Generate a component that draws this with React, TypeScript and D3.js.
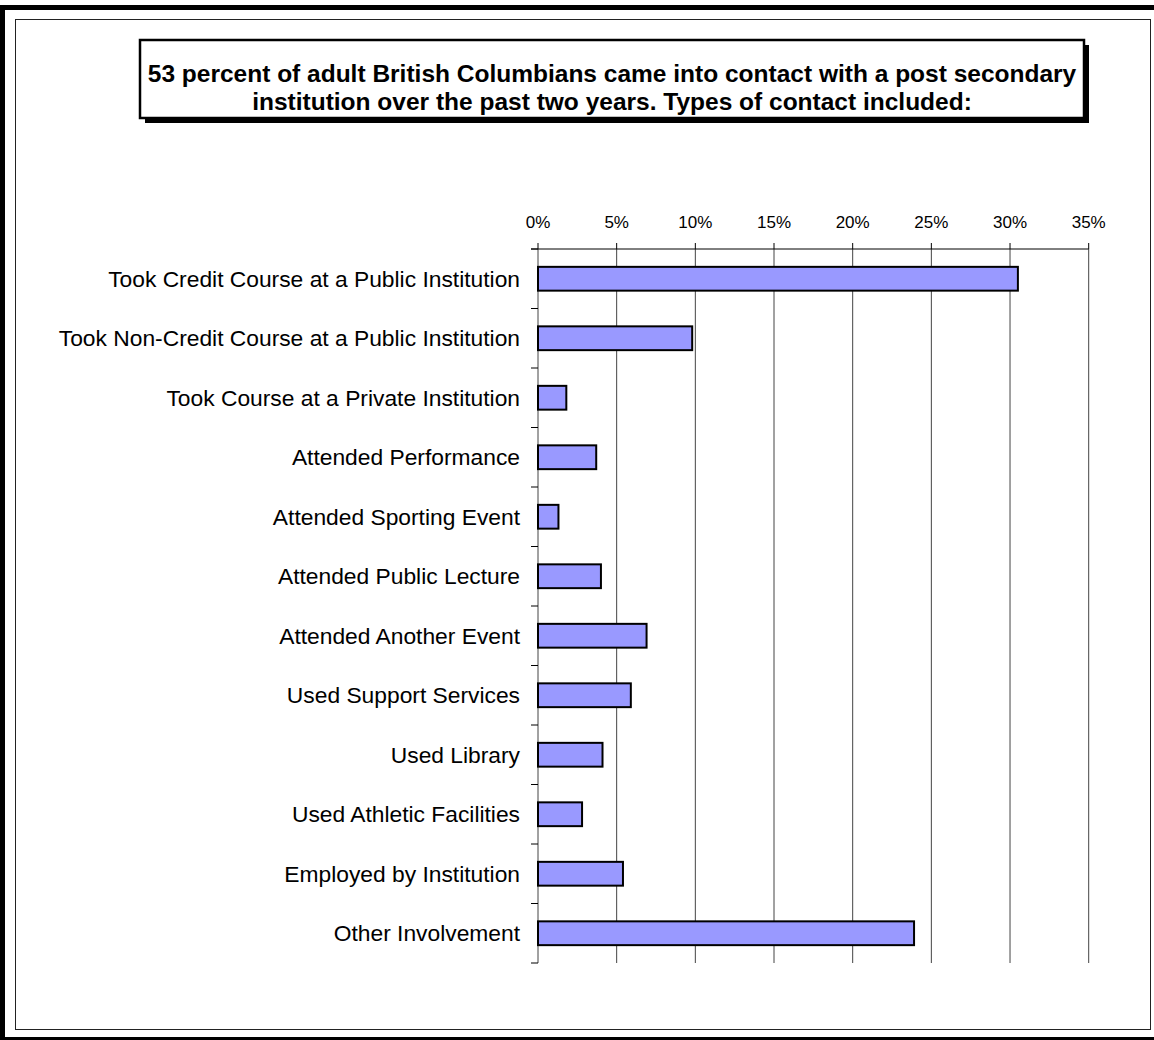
import React from "react";
import * as d3 from "d3";

const categories = [
  "Took Credit Course at a Public Institution",
  "Took Non-Credit Course at a Public Institution",
  "Took Course at a Private Institution",
  "Attended Performance",
  "Attended Sporting Event",
  "Attended Public Lecture",
  "Attended Another Event",
  "Used Support Services",
  "Used Library",
  "Used Athletic Facilities",
  "Employed by Institution",
  "Other Involvement",
];
const values = [30.5, 9.8, 1.8, 3.7, 1.3, 4.0, 6.9, 5.9, 4.1, 2.8, 5.4, 23.9];
const tickValues = [0, 5, 10, 15, 20, 25, 30, 35];
const titleLines = [
  "53 percent of adult British Columbians came into contact with a post secondary",
  "institution over the past two years. Types of contact included:",
];

const W = 1154;
const H = 1040;
const FONT = "Arial, 'Liberation Sans', Helvetica, sans-serif";

export default function App() {
  const left = 538;
  const right = 1088.7;
  const top = 249;
  const bottom = 963;
  const x = d3.scaleLinear().domain([0, 35]).range([left, right]);
  const y = d3
    .scaleBand<string>()
    .domain(categories)
    .range([top, bottom])
    .paddingInner(0.6)
    .paddingOuter(0.3);
  const step = y.step();
  const boundaries = d3.range(categories.length + 1).map((i) => top + i * step);

  const box = { x: 140, y: 40, w: 944, h: 78 };

  return (
    <div style={{ position: "absolute", left: 0, top: 0 }}>
      <svg width={W} height={H} style={{ display: "block" }} fontFamily={FONT}>
        <rect x={0} y={0} width={W} height={H} fill="#fff" />
        <rect x={0} y={5} width={W + 10} height={H} fill="#000" />
        <rect x={5} y={10} width={W} height={1027} fill="#fff" />
        <rect x={15.5} y={19.5} width={1135} height={1010} fill="none" stroke="#222" strokeWidth={1} />

        {/* title box */}
        <rect x={box.x + 5} y={box.y + 5} width={box.w} height={box.h} fill="#000" />
        <rect x={box.x} y={box.y} width={box.w} height={box.h} fill="#fff" stroke="#000" strokeWidth={2.5} />
        {titleLines.map((t, i) => (
          <text
            key={i}
            x={box.x + box.w / 2}
            y={73 + i * 28}
            textAnchor="middle"
            dominantBaseline="central"
            fontWeight="bold"
            fontSize={24.5}
            fill="#000"
          >
            {t}
          </text>
        ))}

        {/* gridlines */}
        {tickValues.map((t) => (
          <line key={"g" + t} x1={x(t)} x2={x(t)} y1={top} y2={bottom} stroke="#444" strokeWidth={1} />
        ))}
        {/* top axis */}
        <line x1={531} x2={right} y1={top} y2={top} stroke="#000" strokeWidth={1} />
        {tickValues.map((t) => (
          <g key={"t" + t}>
            <line x1={x(t)} x2={x(t)} y1={top - 6} y2={top} stroke="#000" strokeWidth={1} />
            <text x={x(t)} y={222} textAnchor="middle" dominantBaseline="central" fontSize={17} fill="#000">
              {t + "%"}
            </text>
          </g>
        ))}
        {/* category ticks */}
        {boundaries.map((b, i) => (
          <line key={"c" + i} x1={531} x2={left} y1={b} y2={b} stroke="#000" strokeWidth={1} />
        ))}

        {/* bars */}
        {categories.map((c, i) => (
          <rect
            key={c}
            x={x(0)}
            y={y(c)!}
            width={x(values[i]) - x(0)}
            height={y.bandwidth()}
            fill="#9999ff"
            stroke="#000"
            strokeWidth={2}
          />
        ))}

        {/* category labels */}
        {categories.map((c) => (
          <text
            key={"l" + c}
            x={520}
            y={y(c)! + y.bandwidth() / 2}
            textAnchor="end"
            dominantBaseline="central"
            fontSize={22.8}
            fill="#000"
          >
            {c}
          </text>
        ))}
      </svg>
    </div>
  );
}
